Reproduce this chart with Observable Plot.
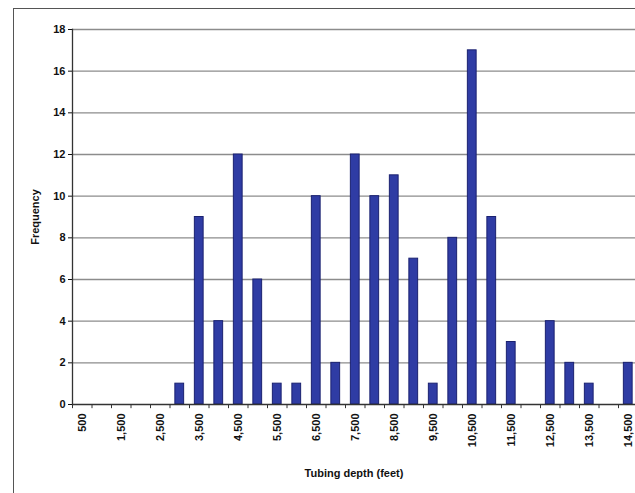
<!DOCTYPE html>
<html><head><meta charset="utf-8">
<script src="https://cdn.jsdelivr.net/npm/d3@7"></script>
<script src="https://cdn.jsdelivr.net/npm/@observablehq/plot@0.6"></script>
<style>
html,body{margin:0;padding:0;background:#fff;overflow:hidden}
#wrap{position:relative;width:635px;height:493px}
#box{position:absolute;left:13px;top:8px;right:-2px;bottom:-2px;border-left:1.5px solid #555;border-top:1.5px solid #555}
#wrap svg{position:absolute;left:0;top:0}
</style></head>
<body><div id="wrap"><div id="box"></div></div>
<script>
const depths = [500,1000,1500,2000,2500,3000,3500,4000,4500,5000,5500,6000,6500,7000,7500,8000,8500,9000,9500,10000,10500,11000,11500,12000,12500,13000,13500,14000,14500];
const frequency = [0,0,0,0,0,1,9,4,12,6,1,1,10,2,12,10,11,7,1,8,17,9,3,0,4,2,1,0,2];
const labeledDepths = [500,1500,2500,3500,4500,5500,6500,7500,8500,9500,10500,11500,12500,13500,14500];
const yTicks = [0,2,4,6,8,10,12,14,16,18];

const data = depths.map((d,i)=>({depth:d, freq:frequency[i]}));
const step = 19.5;

const chart = Plot.plot({
  width: 635, height: 493,
  marginLeft: 72, marginRight: 0, marginTop: 29, marginBottom: 89,
  style: {fontFamily: "'Liberation Sans', Arial, sans-serif", fontSize: "11px", fontWeight: "bold", color: "#111", background: "transparent"},
  x: {type: "band", domain: depths, range: [72, 72 + step*depths.length], paddingInner: 0.55, paddingOuter: 0.275, round: false},
  y: {domain: [0, 18]},
  marks: [
    Plot.ruleY(yTicks.filter(t=>t>0), {stroke: "#8c8c8c", strokeWidth: 1.3}),
    Plot.barY(data, {x: "depth", y: "freq", fill: "#2f3ca4", stroke: "#1a2170", strokeWidth: 1}),
    Plot.ruleY([0], {stroke: "#333", strokeWidth: 1.3}),
    Plot.frame({anchor: "left", stroke: "#333", strokeWidth: 1.3}),
    Plot.ruleX(depths, {x: d=>d, y1: 0, y2: -0.2, dx: -step/2, stroke: "#333"}),
    Plot.axisY({ticks: yTicks, tickSize: 4, tickPadding: 3, label: "Frequency", labelAnchor: "center", labelArrow: "none", labelOffset: 41, fontWeight: "bold"}),
    Plot.axisX({ticks: labeledDepths, tickSize: 0, tickRotate: -90, tickPadding: 9, tickFormat: d3.format(","), label: "Tubing depth (feet)", labelAnchor: "center", labelArrow: "none", labelOffset: 72, fontWeight: "bold"})
  ]
});
document.getElementById("wrap").appendChild(chart);
</script></body></html>
